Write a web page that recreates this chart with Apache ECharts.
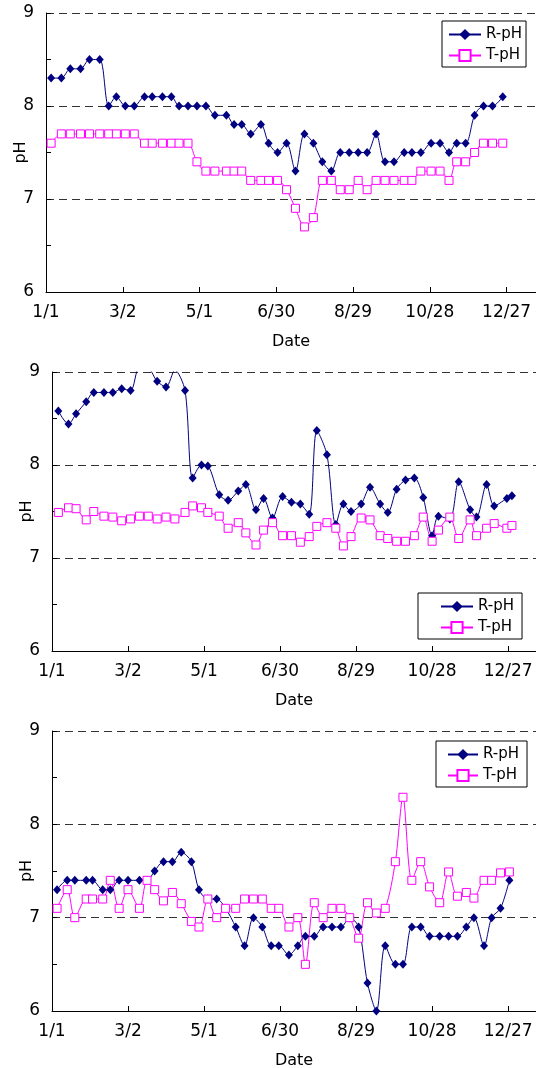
<!DOCTYPE html>
<html>
<head>
	<meta charset="UTF-8">
	<title>pH</title>
	<style>
		html, body { margin: 0; padding: 0; background: #fff; }
		#container { width: 536px; height: 1068px; }
	</style>
</head>
<body>
	<div id="container"></div>
	<script src="https://cdn.jsdelivr.net/npm/echarts@6.0.0/dist/echarts.min.js"></script>
	<script>
		// day of year (0 = 1/1), one sample about every week
		var days1 = [4,12,19,27,34,42,49,55,62,69,77,83,91,98,104,111,118,125,132,141,147,153,160,168,174,181,188,195,202,209,216,223,230,237,244,251,258,265,272,280,286,293,301,308,315,321,328,335,342,349,357];
		var r1 = [8.3,8.3,8.4,8.4,8.5,8.5,8.0,8.1,8.0,8.0, 8.1,8.1,8.1,8.1,8.0,8.0,8.0,8.0,7.9,7.9, 7.8,7.8,7.7,7.8,7.6,7.5,7.6,
			7.3,7.7,7.6,7.4,7.3,7.5,7.5,7.5,7.5,7.7,7.4,7.4,7.5,7.5,7.5,7.6,7.6,7.5,7.6,7.6,7.9,8.0,8.0,8.1];
		var t1 = [7.6,7.7,7.7,7.7,7.7,7.7,7.7,7.7,7.7,7.7, 7.6,7.6,7.6,7.6,7.6,7.6,7.4,7.3,7.3,7.3, 7.3,7.3,7.2,7.2,7.2,7.2,7.1,
			6.9,6.7,6.8,7.2,7.2,7.1,7.1,7.2,7.1,7.2,7.2,7.2,7.2,7.2,7.3,7.3,7.3,7.2,7.4,7.4,7.5,7.6,7.6,7.6];

		var days2 = [5,13,19,27,33,41,48,55,62,69,76,83,90,97,105,111,118,123,132,139,147,153,161,167,174,182,189,196,203,209,217,224,230,236,244,251,259,265,272,279,286,293,300,305,314,321,330,335,343,349,359,363];
		var r2 = [8.58,8.44,8.55,8.68,8.78,8.78,8.78,8.82,8.80,9.05, 9.04,8.90,8.84,9.02,8.80,7.86,8.00,7.99,7.68,7.62,
			7.72,7.79,7.52,7.64,7.43,7.66,7.60,7.58,7.47,8.37, 8.11,7.36,7.58,7.50,7.58,7.76,7.58,7.49,7.74,7.84,
			7.86,7.65,7.24,7.45,7.42,7.82,7.52,7.44,7.79,7.56, 7.64,7.67];
		var t2 = [7.49,7.54,7.53,7.41,7.50,7.45,7.44,7.40,7.42,7.45, 7.45,7.42,7.44,7.42,7.49,7.56,7.54,7.49,7.45,7.32,
			7.38,7.27,7.14,7.30,7.38,7.24,7.24,7.17,7.23,7.34, 7.38,7.32,7.13,7.23,7.43,7.41,7.24,7.21,7.18,7.18,
			7.24,7.44,7.18,7.30,7.44,7.21,7.41,7.24,7.32,7.37, 7.32,7.35];

		var days3 = [4,12,18,27,32,40,46,53,60,69,75,81,88,95,102,110,116,123,130,137,145,152,159,166,173,179,187,194,200,207,214,221,228,235,242,249,256,263,271,277,284,291,298,306,313,320,327,333,341,347,354,361];
		var r3 = [7.3,7.4,7.4,7.4,7.4,7.3,7.3,7.4,7.4,7.4, 7.4,7.5,7.6,7.6,7.7,7.6,7.3,7.2,7.2,7.1,
			6.9,6.7,7.0,6.9,6.7,6.7,6.6,6.7,6.8,6.8, 6.9,6.9,6.9,7.0,6.9,6.3,6.0,6.7,6.5,6.5,
			6.9,6.9,6.8,6.8,6.8,6.8,6.9,7.0,6.7,7.0, 7.1,7.4];
		var t3 = [7.1,7.3,7.0,7.2,7.2,7.2,7.4,7.1,7.3,7.1, 7.4,7.3,7.18,7.27,7.15,6.96,6.9,7.2,7.0,7.1,
			7.1,7.2,7.2,7.2,7.1,7.1,6.9,7.0,6.5,7.16, 7.0,7.1,7.1,7.0,6.78,7.16,7.05,7.1,7.6,8.29,
			7.4,7.6,7.33,7.16,7.49,7.23,7.27,7.21,7.4,7.4, 7.48,7.49];

		var seriesNames = ['R-pH', 'T-pH'];
		var monthStart = [0,31,59,90,120,151,181,212,243,273,304,334];

		var font = 'DejaVu Sans';

		function dayLabel(d) {
			if (d % 60 !== 0) return '';
			var m = 11;
			while (monthStart[m] > d) m--;
			return (m + 1) + '/' + (d - monthStart[m] + 1);
		}

		function pairs(days, vals) {
			return days.map(function (d, i) { return [d, vals[i]]; });
		}

		var panels = [
			{ top: 13, left: 46, height: 279, xmax: 383, days: days1, r: r1, t: t1, legend: { left: 442, top: 21, padding: [6, 4, 4, 6], itemWidth: 32 } },
			{ top: 372, left: 52, height: 279, xmax: 382, days: days2, r: r2, t: t2, legend: { left: 418, top: 593, padding: [6, 8, 4, 22], itemWidth: 32 } },
			{ top: 731, left: 52, height: 280, xmax: 382, days: days3, r: r3, t: t3, legend: { left: 436, top: 741, padding: [6, 8, 4, 11], itemWidth: 30 } }
		];

		var grid = [], xAxis = [], yAxis = [], series = [], legend = [];

		panels.forEach(function (p, i) {
			grid.push({ top: p.top, left: p.left, right: 0, height: p.height, containLabel: false, outerBoundsMode: 'none' });
			xAxis.push({
				type: 'value', gridIndex: i, min: 0, max: p.xmax, interval: 60,
				name: 'Date', nameLocation: 'middle', nameGap: 42, nameMoveOverlap: false,
				nameTextStyle: { fontSize: 16, color: '#000', fontFamily: font },
				axisLine: { show: true, onZero: false, lineStyle: { color: '#000', width: 1 } },
				axisTick: { show: true, inside: true, length: 5, lineStyle: { color: '#000' } },
				axisLabel: { color: '#000', fontSize: 17, fontFamily: font, margin: 12, formatter: dayLabel },
				splitLine: { show: false }
			});
			yAxis.push({
				type: 'value', gridIndex: i, min: 6, max: 9, interval: 1,
				name: 'pH', nameLocation: 'middle', nameGap: 17, nameRotate: 90, nameMoveOverlap: false,
				nameTextStyle: { fontSize: 16, color: '#000', fontFamily: font },
				axisLine: { show: true, lineStyle: { color: '#000', width: 1 } },
				axisTick: { show: true, inside: true, length: 5, lineStyle: { color: '#000' } },
				minorTick: { show: true, splitNumber: 2, length: 5, lineStyle: { color: '#000' } },
				axisLabel: { color: '#000', fontSize: 17, fontFamily: font, margin: 12 },
				splitLine: { show: true, lineStyle: { color: '#333', type: [8, 5], width: 1 } }
			});
			series.push({
				name: seriesNames[0], type: 'line', xAxisIndex: i, yAxisIndex: i,
				data: pairs(p.days, p.r), smooth: 0.3,
				symbol: 'diamond', symbolSize: [8, 9],
				lineStyle: { color: '#000080', width: 1 },
				itemStyle: { color: '#000080' }
			});
			series.push({
				name: seriesNames[1], type: 'line', xAxisIndex: i, yAxisIndex: i,
				data: pairs(p.days, p.t), smooth: 0.3,
				symbol: 'rect', symbolSize: 8,
				lineStyle: { color: '#ff00ff', width: 1 },
				itemStyle: { color: '#fff', borderColor: '#ff00ff', borderWidth: 1 }
			});
			legend.push({
				left: p.legend.left, top: p.legend.top, orient: 'vertical',
				data: seriesNames, padding: p.legend.padding,
				itemGap: 6, itemWidth: p.legend.itemWidth, itemHeight: 14,
				borderColor: '#000', borderWidth: 1, backgroundColor: '#fff',
				textStyle: { fontSize: 15, color: '#000', fontFamily: font }
			});
		});

		var myChart = echarts.init(document.getElementById('container'));
		var option = {
			animation: false,
			backgroundColor: '#fff',
			textStyle: { fontFamily: font },
			grid: grid,
			xAxis: xAxis,
			yAxis: yAxis,
			legend: legend,
			series: series
		};
		myChart.setOption(option);
	</script>
</body>
</html>
